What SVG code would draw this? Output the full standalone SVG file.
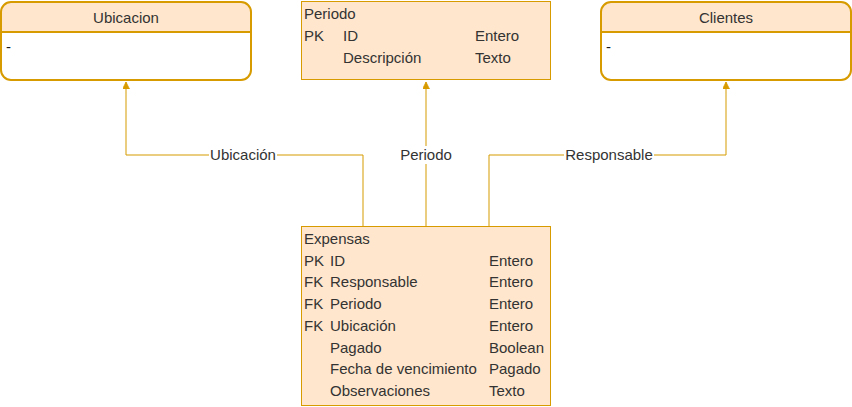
<svg xmlns="http://www.w3.org/2000/svg" width="852" height="407" viewBox="0 0 852 407">
<defs>
<style>
text{font-family:"Liberation Sans",Arial,sans-serif;font-size:15px;fill:#333333;}
.t{fill:#1a1a1a;}
.c{text-anchor:middle;}
.edge{fill:none;stroke:#d79b00;stroke-width:1;}
.box{fill:#ffe6cc;stroke:#d79b00;stroke-width:1;}
.rbox{fill:#ffffff;stroke:#d79b00;stroke-width:2;}
.lbl{fill:#ffffff;}
</style>
<marker id="arr" viewBox="0 0 10 10" refX="10" refY="5" markerWidth="7" markerHeight="7" orient="auto" markerUnits="userSpaceOnUse">
<path d="M0,0 L10,5 L0,10 Z" fill="#d79b00" stroke="#d79b00"/>
</marker>
</defs>
<rect width="852" height="407" fill="#ffffff"/>
<g id="connectors">
<path class="edge" d="M363,226 V155 H126 V82" marker-end="url(#arr)"/>
<path class="edge" d="M426,226 V82" marker-end="url(#arr)"/>
<path class="edge" d="M489,226 V155 H726 V82" marker-end="url(#arr)"/>
<rect class="lbl" x="209" y="146" width="68" height="18"/>
<text class="c" x="243" y="160">Ubicación</text>
<rect class="lbl" x="398" y="146" width="56" height="18"/>
<text class="c" x="426" y="160">Periodo</text>
<rect class="lbl" x="564" y="146" width="90" height="18"/>
<text class="c" x="609" y="160">Responsable</text>
</g>
<g id="ubicacion">
<path d="M11,2 H241 A10,10 0 0 1 251,12 V32 H1 V12 A10,10 0 0 1 11,2 Z" fill="#ffe6cc"/>
<rect x="1" y="2" width="250" height="78" rx="10" ry="10" fill="none" stroke="#d79b00" stroke-width="2"/>
<line x1="1" y1="32" x2="251" y2="32" stroke="#d79b00" stroke-width="2"/>
<text class="c" x="126" y="23">Ubicacion</text>
<text class="t" x="6" y="52">-</text>
</g>
<g id="periodo">
<rect class="box" x="301.5" y="1.5" width="249" height="78"/>
<text x="304" y="19">Periodo</text>
<text x="304" y="41">PK</text>
<text x="343" y="41">ID</text>
<text x="475" y="41">Entero</text>
<text x="343" y="63">Descripción</text>
<text x="475" y="63">Texto</text>
</g>
<g id="clientes">
<path d="M611,2 H841 A10,10 0 0 1 851,12 V32 H601 V12 A10,10 0 0 1 611,2 Z" fill="#ffe6cc"/>
<rect x="601" y="2" width="250" height="78" rx="10" ry="10" fill="none" stroke="#d79b00" stroke-width="2"/>
<line x1="601" y1="32" x2="851" y2="32" stroke="#d79b00" stroke-width="2"/>
<text class="c" x="726" y="23">Clientes</text>
<text class="t" x="606" y="52">-</text>
</g>
<g id="expensas">
<rect class="box" x="301.5" y="226.5" width="249" height="179"/>
<text x="304" y="244">Expensas</text>
<text x="304" y="266">PK</text><text x="330" y="266">ID</text><text x="489" y="266">Entero</text>
<text x="304" y="287">FK</text><text x="330" y="287">Responsable</text><text x="489" y="287">Entero</text>
<text x="304" y="309">FK</text><text x="330" y="309">Periodo</text><text x="489" y="309">Entero</text>
<text x="304" y="331">FK</text><text x="330" y="331">Ubicación</text><text x="489" y="331">Entero</text>
<text x="330" y="353">Pagado</text><text x="489" y="353">Boolean</text>
<text x="330" y="374">Fecha de vencimiento</text><text x="489" y="374">Pagado</text>
<text x="330" y="396">Observaciones</text><text x="489" y="396">Texto</text>
</g>
</svg>
